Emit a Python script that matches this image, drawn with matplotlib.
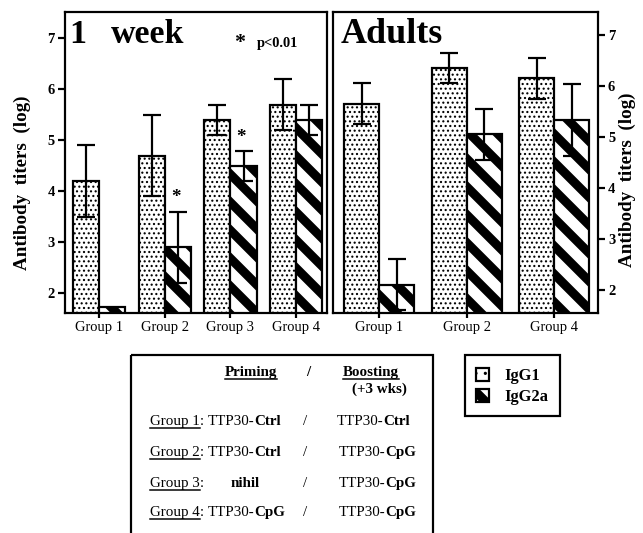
import matplotlib
matplotlib.use("Agg")
import matplotlib.pyplot as plt
from matplotlib.patches import Rectangle
import numpy as np

W, H = 643, 533
DPI = 168

def pt(px):
    # pixel size -> points at this dpi
    return px * 72.0 / DPI

# ---- data ----
week_groups = ['Group 1', 'Group 2', 'Group 3', 'Group 4']
week_igg1 = [4.2, 4.7, 5.4, 5.7]
week_igg1_err = [0.7, 0.8, 0.3, 0.5]
week_igg2a = [1.73, 2.9, 4.5, 5.4]
week_igg2a_err = [0.0, 0.7, 0.3, 0.3]

adult_groups = ['Group 1', 'Group 2', 'Group 4']
adult_igg1 = [5.65, 6.35, 6.15]
adult_igg1_err = [0.4, 0.3, 0.4]
adult_igg2a = [2.1, 5.05, 5.33]
adult_igg2a_err = [0.5, 0.5, 0.7]

yticks = [2, 3, 4, 5, 6, 7]
series_names = ['IgG1', 'IgG2a']

SERIF = 'Liberation Serif'
plt.rcParams['font.family'] = SERIF
plt.rcParams['hatch.color'] = 'black'

DOTS = '......'
STRIPES = '\\\\'
LW = pt(2.2)
DOT_LW = pt(1.3)
STRIPE_LW = pt(9)

fig = plt.figure(figsize=(W / DPI, H / DPI), dpi=DPI)


def box(x0, y0, x1, y1):
    return [x0 / W, 1 - y1 / H, (x1 - x0) / W, (y1 - y0) / H]


def hatch_lw(patches, lw):
    for b in patches:
        if hasattr(b, 'set_hatch_linewidth'):
            b.set_hatch_linewidth(lw)


def panel(ax, groups, v1, e1, v2, e2, xlim, ylim, right=False):
    x = np.arange(len(groups))
    w = 0.4
    with plt.rc_context({'hatch.linewidth': DOT_LW}):
        b1 = ax.bar(x - w / 2, v1, w, color='white', edgecolor='black',
                    linewidth=LW, hatch=DOTS, zorder=2)
    with plt.rc_context({'hatch.linewidth': STRIPE_LW}):
        b2 = ax.bar(x + w / 2, v2, w, color='white', edgecolor='black',
                    linewidth=LW, hatch=STRIPES, zorder=2)
    hatch_lw(b1, DOT_LW)
    hatch_lw(b2, STRIPE_LW)
    for xs, vs, es in [(x - w / 2, v1, e1), (x + w / 2, v2, e2)]:
        for xi, vi, ei in zip(xs, vs, es):
            if ei > 0:
                ax.errorbar(xi, vi, yerr=ei, fmt='none', ecolor='black',
                            elinewidth=pt(2.2), capsize=pt(9),
                            capthick=pt(2.2), zorder=3)
    ax.set_xlim(*xlim)
    ax.set_ylim(*ylim)
    ax.set_xticks(x)
    ax.set_xticklabels(groups, fontsize=pt(14.5))
    ax.set_yticks(yticks)
    ax.set_yticklabels([str(t) for t in yticks], fontsize=pt(14.5),
                       fontweight='bold')
    ax.tick_params(axis='x', length=pt(5), width=LW, pad=pt(3))
    ax.tick_params(axis='y', length=pt(7), width=LW, pad=pt(3))
    if right:
        ax.yaxis.tick_right()
    for s in ax.spines.values():
        s.set_linewidth(LW)


ax1 = fig.add_axes(box(65, 12, 327, 313))
panel(ax1, week_groups, week_igg1, week_igg1_err, week_igg2a, week_igg2a_err,
      (-0.52, 3.47), (1.61, 7.52))

ax2 = fig.add_axes(box(333, 12, 598, 313))
panel(ax2, adult_groups, adult_igg1, adult_igg1_err, adult_igg2a,
      adult_igg2a_err, (-0.53, 2.50), (1.55, 7.45), right=True)

# overlay in pixel coordinates
ov = fig.add_axes([0, 0, 1, 1])
ov.set_xlim(0, W)
ov.set_ylim(H, 0)
ov.axis('off')
ov.patch.set_visible(False)

ov.text(22, 183, 'Antibody  titers  (log)', rotation=90, ha='center',
        va='center', fontsize=pt(19), fontweight='bold')
ov.text(627, 180, 'Antibody  titers  (log)', rotation=90, ha='center',
        va='center', fontsize=pt(19), fontweight='bold')

ov.text(69, 43, '1', fontsize=pt(34), fontweight='bold', va='baseline')
ov.text(111, 43, 'week', fontsize=pt(34), fontweight='bold', va='baseline')
ov.text(240, 48, '*', fontsize=pt(22), fontweight='bold', va='baseline',
        ha='center')
ov.text(257, 47, 'p<0.01', fontsize=pt(14.5), fontweight='bold',
        va='baseline')
ov.text(341, 43, 'Adults', fontsize=pt(36), fontweight='bold', va='baseline')

ov.text(176, 202, '*', fontsize=pt(19), fontweight='bold', va='baseline',
        ha='center')
ov.text(241, 142, '*', fontsize=pt(19), fontweight='bold', va='baseline',
        ha='center')

# table box
ov.add_patch(Rectangle((131, 355), 302, 200, fill=False, lw=LW,
                       edgecolor='black', clip_on=False))
# legend box
ov.add_patch(Rectangle((465, 355), 95, 61, fill=False, lw=LW,
                       edgecolor='black'))
with plt.rc_context({'hatch.linewidth': DOT_LW}):
    s1 = Rectangle((476, 368), 13, 13, facecolor='white', edgecolor='black',
                   lw=LW, hatch='...')
with plt.rc_context({'hatch.linewidth': STRIPE_LW}):
    s2 = Rectangle((476, 389), 13, 13, facecolor='white', edgecolor='black',
                   lw=LW, hatch=STRIPES)
hatch_lw([s1], DOT_LW)
hatch_lw([s2], STRIPE_LW)
ov.add_patch(s1)
ov.add_patch(s2)
ov.text(504, 380, series_names[0], fontsize=pt(16.5), fontweight='bold',
        va='baseline')
ov.text(504, 401, series_names[1], fontsize=pt(16.5), fontweight='bold',
        va='baseline')

rend = fig.canvas.get_renderer()
FS = pt(15)


def put(x, y, s, bold=False, ul=False, size=FS):
    t = ov.text(x, y, s, fontsize=size, va='baseline', ha='left',
                fontweight='bold' if bold else 'normal')
    bb = t.get_window_extent(renderer=rend)
    x1 = x + bb.width
    if ul:
        ov.plot([x, x1], [y + 2.5, y + 2.5], color='black', lw=pt(1.5))
    return x1


put(225, 376, 'Priming', bold=True, ul=True)
put(306, 376, '/', bold=True)
put(343, 376, 'Boosting', bold=True, ul=True)
put(352, 393, '(+3 wks)', bold=True)

rows = [
    (425, 'Group 1', [('TTP30-', False), ('Ctrl', True)], None,
     [('TTP30-', False), ('Ctrl', True)], 337),
    (456, 'Group 2', [('TTP30-', False), ('Ctrl', True)], None,
     [('TTP30-', False), ('CpG', True)], 339),
    (487, 'Group 3', [('nihil', True)], 231,
     [('TTP30-', False), ('CpG', True)], 339),
    (516, 'Group 4', [('TTP30-', False), ('CpG', True)], None,
     [('TTP30-', False), ('CpG', True)], 339),
]
for y, g, left, lx, right, rx in rows:
    xe = put(150, y, g, ul=True)
    xe = put(xe, y, ':')
    xx = xe + 4 if lx is None else lx
    for s, b in left:
        xx = put(xx, y, s, bold=b)
    put(303, y, '/')
    xx = rx
    for s, b in right:
        xx = put(xx, y, s, bold=b)

fig.savefig('out.png', dpi=DPI)
